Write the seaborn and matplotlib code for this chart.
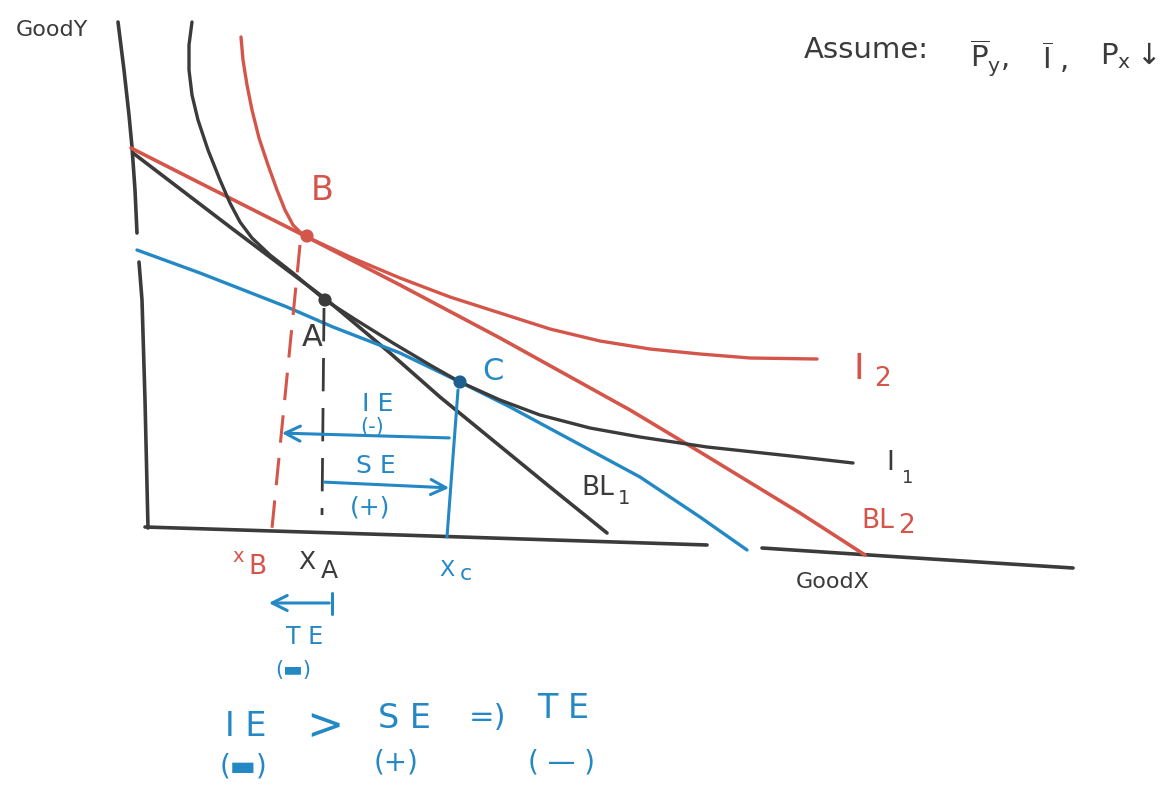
import numpy as np
import pandas as pd
import seaborn as sns
import matplotlib.pyplot as plt

# Page coordinates of the sketch: horizontal = Good X, vertical measured downward
RED = "#d4564a"
BLUE = "#2388c4"
INK = "#3b3b3b"

# Axes (hand drawn, two strokes each)
y_axis_top_x = [118, 124, 129, 132, 135, 137]
y_axis_top_y = [22, 70, 115, 147, 190, 233]
y_axis_low_x = [139, 142, 145, 148]
y_axis_low_y = [262, 300, 400, 528]
x_axis_left_x = [145, 400, 707]
x_axis_left_y = [527, 535, 545]
x_axis_right_x = [762, 900, 1073]
x_axis_right_y = [548, 557, 568]

# Original budget line BL1
bl1_x = [133, 230, 327, 390, 440, 550, 607]
bl1_y = [153, 227, 300, 353, 397, 487, 533]

# New budget line BL2 after the fall in Px
bl2_x = [131, 200, 305, 400, 500, 630, 700, 800, 865]
bl2_y = [148, 183, 236, 285, 338, 410, 452, 513, 555]

# Compensated budget line (tangent to I1 at C)
comp_x = [137, 200, 287, 333, 400, 460, 510, 575, 640, 700, 747]
comp_y = [250, 273, 307, 327, 353, 382, 407, 442, 477, 517, 550]

# Indifference curve I1
i1_x = [192, 189, 189, 192, 198, 208, 220, 230, 240, 252, 270, 293, 313, 325, 353, 393,
        430, 460, 500, 540, 590, 640, 707, 800, 853]
i1_y = [22, 45, 70, 95, 120, 150, 180, 203, 222, 238, 255, 273, 290, 300, 318, 343,
        365, 382, 400, 415, 428, 437, 447, 457, 463]

# Indifference curve I2
i2_x = [241, 243, 247, 252, 259, 268, 277, 285, 293, 300, 307, 350, 400, 450, 500, 550,
        600, 650, 700, 750, 817]
i2_y = [37, 60, 85, 110, 138, 165, 190, 210, 225, 232, 237, 257, 278, 297, 313, 329,
        341, 349, 354, 358, 359]

# Optimal bundles
pt_names = ["A", "B", "C"]
pt_x = [325, 307, 460]
pt_y = [300, 236, 382]
pt_colors = [INK, RED, "#1f5f8f"]

# Drop lines to the quantity axis
drop_b_x, drop_b_y = [300, 272], [245, 528]
drop_a_x, drop_a_y = [324, 322], [308, 515]
drop_c_x, drop_c_y = [458, 447], [390, 537]

sns.set_theme(style="white")
plt.rcParams["font.family"] = ["DejaVu Sans"]

fig = plt.figure(figsize=(11.74, 7.94), dpi=100)
ax = fig.add_axes([0, 0, 1, 1])
ax.set_xlim(0, 1174)
ax.set_ylim(794, 0)
ax.axis("off")


def stroke(xs, ys, color, lw=2.4, **kw):
    sns.lineplot(x=xs, y=ys, sort=False, estimator=None, color=color, lw=lw, ax=ax,
                 solid_capstyle="round", solid_joinstyle="round", **kw)


for xs, ys in [(y_axis_top_x, y_axis_top_y), (y_axis_low_x, y_axis_low_y),
               (x_axis_left_x, x_axis_left_y), (x_axis_right_x, x_axis_right_y)]:
    stroke(xs, ys, INK, lw=2.6)

stroke(bl1_x, bl1_y, INK, lw=2.6)
stroke(bl2_x, bl2_y, RED, lw=2.6)
stroke(comp_x, comp_y, BLUE, lw=2.4)
stroke(i1_x, i1_y, INK, lw=2.4)
stroke(i2_x, i2_y, RED, lw=2.4)

stroke(drop_b_x, drop_b_y, RED, lw=2.2, dashes=False, linestyle=(0, (9, 5)))
stroke(drop_a_x, drop_a_y, INK, lw=2.0, dashes=False, linestyle=(0, (12, 6)))
stroke(drop_c_x, drop_c_y, BLUE, lw=2.2)

pts = pd.DataFrame({"x": pt_x, "y": pt_y, "name": pt_names})
sns.scatterplot(data=pts, x="x", y="y", hue="name", palette=dict(zip(pt_names, pt_colors)),
                s=90, legend=False, ax=ax, edgecolor="none", zorder=5)

# Effect arrows
arrow = dict(arrowstyle="->,head_length=0.9,head_width=0.45", color=BLUE, lw=2.2)
ax.annotate("", xy=(279, 433), xytext=(452, 438), arrowprops=arrow)
ax.annotate("", xy=(452, 488), xytext=(322, 482), arrowprops=arrow)
ax.annotate("", xy=(266, 603), xytext=(332, 603), arrowprops=arrow)
stroke([332, 332], [593, 614], BLUE, lw=2.2)

# Text
texts = [
    (52, 30, "GoodY", INK, 16),
    (322, 190, "B", RED, 24),
    (312, 337, "A", INK, 22),
    (493, 371, "C", BLUE, 22),
    (378, 404, "I E", BLUE, 18),
    (372, 427, "(-)", BLUE, 15),
    (376, 466, "S E", BLUE, 18),
    (370, 508, "(+)", BLUE, 18),
    (598, 488, "BL", INK, 19),
    (878, 521, "BL", RED, 19),
    (833, 582, "GoodX", INK, 16),
    (257, 567, "B", RED, 19),
    (307, 562, "X", INK, 18),
    (329, 571, "A", INK, 18),
    (447, 570, "X", BLUE, 16),
    (466, 574, "c", BLUE, 16),
    (305, 637, "T E", BLUE, 17),
    (293, 670, "(▬)", BLUE, 15),
    (246, 727, "I E", BLUE, 24),
    (325, 727, ">", BLUE, 32),
    (404, 718, "S E", BLUE, 24),
    (488, 718, "=)", BLUE, 22),
    (563, 708, "T E", BLUE, 24),
    (243, 767, "(▬)", BLUE, 20),
    (396, 763, "(+)", BLUE, 20),
    (561, 763, "( — )", BLUE, 20),
    (866, 50, "Assume:", INK, 21),
]
for x, y, s, c, fs in texts:
    ax.text(x, y, s, color=c, fontsize=fs, ha="center", va="center")

# subscripts and small marks
ax.text(238, 557, "x", color=RED, fontsize=14, ha="center", va="center")
ax.text(624, 498, "1", color=INK, fontsize=14, ha="center", va="center")
ax.text(907, 526, "2", color=RED, fontsize=19, ha="center", va="center")
ax.text(859, 369, "I", color=RED, fontsize=26, ha="center", va="center")
ax.text(882, 379, "2", color=RED, fontsize=19, ha="center", va="center")
ax.text(890, 463, "I", color=INK, fontsize=19, ha="center", va="center")
ax.text(908, 478, "1", color=INK, fontsize=13, ha="center", va="center")

ax.text(990, 58, r"$\overline{\mathrm{P}}_{\mathrm{y}}$,", color=INK, fontsize=21,
        ha="center", va="center")
ax.text(1055, 58, r"$\overline{\mathrm{I}}$ ,", color=INK, fontsize=21,
        ha="center", va="center")
ax.text(1128, 56, r"$\mathrm{P_x}\downarrow$", color=INK, fontsize=21,
        ha="center", va="center")

fig.savefig("out.png", dpi=100, facecolor="white")
